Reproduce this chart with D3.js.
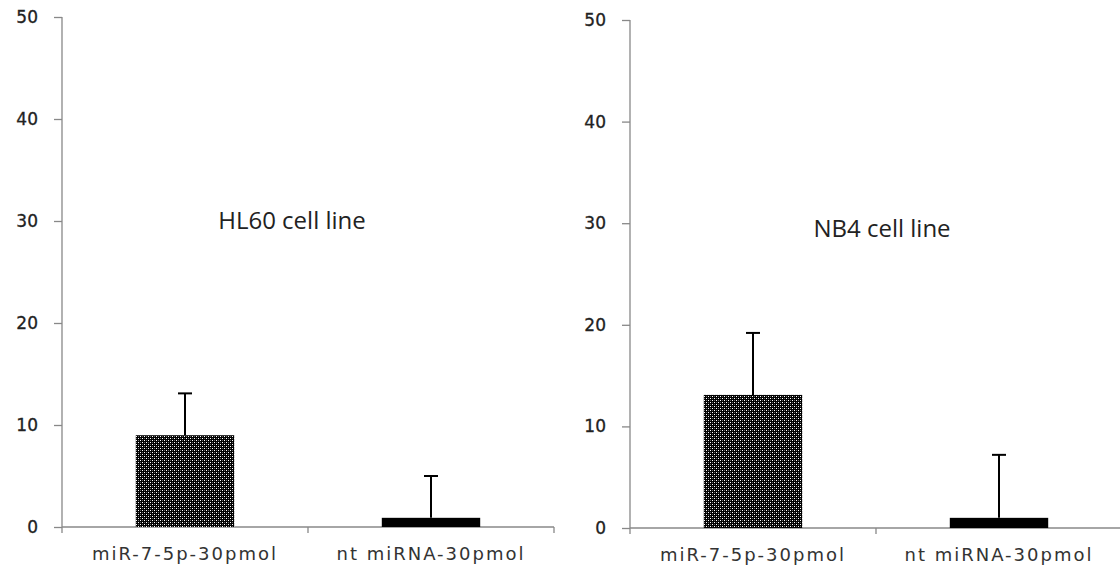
<!DOCTYPE html>
<html>
<head>
<meta charset="utf-8">
<script src="https://cdn.jsdelivr.net/npm/d3@7"></script>
<style>
  html, body { margin: 0; padding: 0; background: #fff; }
  svg { display: block; }
</style>
</head>
<body>
<svg id="chart" width="1120" height="575"></svg>
<script>
const categories = ["miR-7-5p-30pmol", "nt miRNA-30pmol"];
const hl60Values = [9.0, 0.9];
const hl60Errors = [4.1, 4.1];
const nb4Values = [13.1, 1.0];
const nb4Errors = [6.1, 6.2];
const yTicks = [0, 10, 20, 30, 40, 50];
const panelTitles = ["HL60 cell line", "NB4 cell line"];

const svg = d3.select("#chart");
const defs = svg.append("defs");
const pat = defs.append("pattern").attr("id", "dots")
  .attr("patternUnits", "userSpaceOnUse").attr("width", 4).attr("height", 4);
pat.append("rect").attr("width", 4).attr("height", 4).attr("fill", "#000");
pat.append("rect").attr("x", 0).attr("y", 0).attr("width", 1).attr("height", 1).attr("fill", "#fff");
pat.append("rect").attr("x", 2).attr("y", 2).attr("width", 1).attr("height", 1).attr("fill", "#fff");
pat.append("rect").attr("x", 2).attr("y", 0).attr("width", 1).attr("height", 1).attr("fill", "#666");
pat.append("rect").attr("x", 0).attr("y", 2).attr("width", 1).attr("height", 1).attr("fill", "#666");

const panels = [
  { values: hl60Values, errors: hl60Errors, title: panelTitles[0], x0: 62, x1: 554, yTop: 17, yBot: 527, tx: 292, ty: 229 },
  { values: nb4Values, errors: nb4Errors, title: panelTitles[1], x0: 630, x1: 1122, yTop: 20, yBot: 528, tx: 882, ty: 237 }
];

const fills = ["url(#dots)", "#000"];

panels.forEach(p => {
  const g = svg.append("g");
  const x = d3.scaleBand().domain(categories).range([p.x0, p.x1]).paddingInner(0.6).paddingOuter(0.3);
  const y = d3.scaleLinear().domain([0, 50]).range([p.yBot, p.yTop]);

  // y axis
  const ya = g.append("g").attr("transform", `translate(${p.x0},0)`)
    .call(d3.axisLeft(y).tickValues(yTicks).tickSize(8).tickPadding(16));
  ya.select(".domain").attr("stroke", "#888").attr("stroke-width", 1.3).attr("d", `M0,${p.yTop}V${p.yBot + 6}`);
  ya.selectAll(".tick line").attr("stroke", "#888").attr("stroke-width", 1.3);
  ya.selectAll(".tick text").attr("font-family", "DejaVu Sans").attr("font-size", 17)
    .attr("fill", "#222").attr("stroke", "#222").attr("stroke-width", 0.3);

  // x axis
  const step = x.step();
  const boundaries = [p.x0, p.x0 + step, p.x0 + 2 * step];
  g.append("line").attr("x1", p.x0).attr("x2", p.x1).attr("y1", p.yBot).attr("y2", p.yBot)
    .attr("stroke", "#888").attr("stroke-width", 1.3);
  g.selectAll(".xt").data(boundaries.slice(1)).enter().append("line")
    .attr("x1", d => d).attr("x2", d => d).attr("y1", p.yBot).attr("y2", p.yBot + 6)
    .attr("stroke", "#888").attr("stroke-width", 1.3);
  g.selectAll(".xl").data(categories).enter().append("text")
    .attr("x", d => x(d) + x.bandwidth() / 2).attr("y", p.yBot + 33)
    .attr("text-anchor", "middle").attr("font-family", "DejaVu Sans").attr("font-size", 18)
    .attr("letter-spacing", 2).attr("fill", "#333").text(d => d);

  // bars
  g.selectAll(".bar").data(categories).enter().append("rect")
    .attr("x", d => x(d)).attr("width", x.bandwidth())
    .attr("y", (d, i) => y(p.values[i])).attr("height", (d, i) => y(0) - y(p.values[i]))
    .attr("fill", (d, i) => fills[i]);

  // error bars (upper only)
  const cx = d => x(d) + x.bandwidth() / 2;
  g.selectAll(".err").data(categories).enter().append("line")
    .attr("x1", cx).attr("x2", cx)
    .attr("y1", (d, i) => y(p.values[i])).attr("y2", (d, i) => y(p.values[i] + p.errors[i]))
    .attr("stroke", "#000").attr("stroke-width", 2);
  g.selectAll(".cap").data(categories).enter().append("line")
    .attr("x1", d => cx(d) - 7).attr("x2", d => cx(d) + 7)
    .attr("y1", (d, i) => y(p.values[i] + p.errors[i])).attr("y2", (d, i) => y(p.values[i] + p.errors[i]))
    .attr("stroke", "#000").attr("stroke-width", 2);

  // title
  g.append("text").attr("x", p.tx).attr("y", p.ty).attr("text-anchor", "middle")
    .attr("font-family", "Open Sans").attr("font-size", 24).attr("fill", "#222").text(p.title);
});
</script>
</body>
</html>
